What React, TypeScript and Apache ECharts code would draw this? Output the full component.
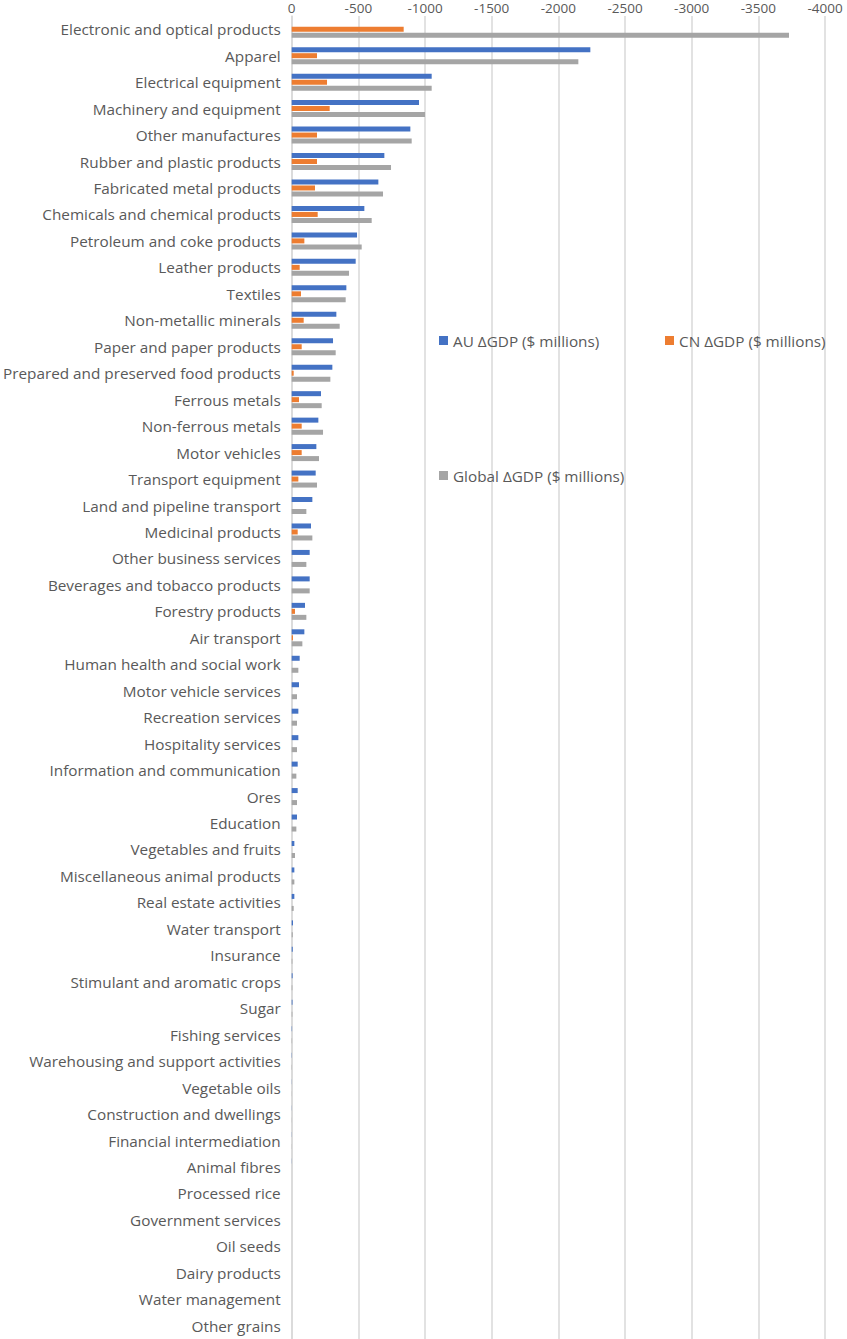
import React, { useEffect, useRef } from "react";
import * as echarts from "echarts";

const categories = [
  "Electronic and optical products",
  "Apparel",
  "Electrical equipment",
  "Machinery and equipment",
  "Other manufactures",
  "Rubber and plastic products",
  "Fabricated metal products",
  "Chemicals and chemical products",
  "Petroleum and coke products",
  "Leather products",
  "Textiles",
  "Non-metallic minerals",
  "Paper and paper products",
  "Prepared and preserved food products",
  "Ferrous metals",
  "Non-ferrous metals",
  "Motor vehicles",
  "Transport equipment",
  "Land and pipeline transport",
  "Medicinal products",
  "Other business services",
  "Beverages and tobacco products",
  "Forestry products",
  "Air transport",
  "Human health and social work",
  "Motor vehicle services",
  "Recreation services",
  "Hospitality services",
  "Information and communication",
  "Ores",
  "Education",
  "Vegetables and fruits",
  "Miscellaneous animal products",
  "Real estate activities",
  "Water transport",
  "Insurance",
  "Stimulant and aromatic crops",
  "Sugar",
  "Fishing services",
  "Warehousing and support activities",
  "Vegetable oils",
  "Construction and dwellings",
  "Financial intermediation",
  "Animal fibres",
  "Processed rice",
  "Government services",
  "Oil seeds",
  "Dairy products",
  "Water management",
  "Other grains",
];

const auValues = [
  0, -2240, -1050, -955, -890, -695, -650, -545, -490, -480,
  -410, -335, -310, -305, -220, -200, -185, -180, -155, -145,
  -135, -135, -100, -95, -60, -55, -50, -50, -45, -45,
  -40, -20, -20, -20, -10, -8, -7, -6, -3, -2,
  -1, -1, -1, -1, 0, 0, 0, 0, 0, 0,
];

const cnValues = [
  -840, -190, -265, -285, -190, -190, -175, -195, -95, -60,
  -70, -90, -75, -15, -55, -75, -75, -50, 0, -45,
  0, 0, -25, -10, 0, 0, 0, 0, 0, 0,
  0, 0, 0, 0, 0, 0, 0, 0, 0, 0,
  0, 0, 0, 0, 0, 0, 0, 0, 0, 0,
];

const globalValues = [
  -3730, -2150, -1050, -1000, -900, -745, -685, -600, -525, -430,
  -405, -360, -330, -290, -225, -235, -205, -190, -110, -155,
  -110, -135, -110, -80, -50, -40, -40, -40, -35, -40,
  -35, -25, -20, -15, -8, -5, -5, -5, -3, -2,
  -1, -1, -1, 0, 0, 0, 0, 0, 0, 0,
];

const seriesNames = [
  "AU ΔGDP ($ millions)",
  "CN ΔGDP ($ millions)",
  "Global ΔGDP ($ millions)",
];
const seriesColors = ["#4472C4", "#ED7D31", "#A5A5A5"];

const xMin = -4000;
const xMax = 0;
const xInterval = 500;

const FONT = "'Open Sans', 'Noto Sans', sans-serif";
const TEXT_COLOR = "#595959";
const GRID_COLOR = "#D9D9D9";

export default function App() {
  const ref = useRef<HTMLDivElement>(null);

  useEffect(() => {
    if (!ref.current) return;
    const chart = echarts.init(ref.current, null, { renderer: "svg" });

    const legendBase = {
      orient: "horizontal",
      icon: "rect",
      itemWidth: 9,
      itemHeight: 9,
      itemGap: 10,
      textStyle: { color: TEXT_COLOR, fontSize: 15.3, fontFamily: FONT },
      selectedMode: false,
    };

    chart.setOption({
      animation: false,
      backgroundColor: "#ffffff",
      textStyle: { fontFamily: FONT },
      grid: {
        left: 289,
        right: 22,
        top: 16,
        bottom: -1,
        containLabel: false,
      },
      legend: [
        { ...legendBase, data: [seriesNames[0]], left: 434, top: 328 },
        { ...legendBase, data: [seriesNames[1]], left: 660, top: 328 },
        { ...legendBase, data: [seriesNames[2]], left: 434, top: 463 },
      ],
      xAxis: {
        type: "value",
        position: "top",
        inverse: true,
        min: xMin,
        max: xMax,
        interval: xInterval,
        axisLine: { show: false },
        axisTick: { show: false },
        axisLabel: {
          color: TEXT_COLOR,
          fontSize: 13.5,
          fontFamily: FONT,
          margin: 1,
          formatter: (v: number) => String(v),
        },
        splitLine: { show: true, lineStyle: { color: GRID_COLOR, width: 1.5 } },
      },
      yAxis: {
        type: "category",
        inverse: true,
        data: categories,
        axisLine: { show: true, lineStyle: { color: GRID_COLOR, width: 1.5 } },
        axisTick: { show: false },
        axisLabel: {
          color: TEXT_COLOR,
          fontSize: 15.3,
          fontFamily: FONT,
          margin: 11,
        },
        splitLine: { show: false },
      },
      series: [auValues, cnValues, globalValues].map((vals, i) => ({
        type: "bar",
        name: seriesNames[i],
        data: vals,
        barWidth: 5,
        barGap: "20%",
        itemStyle: { color: seriesColors[i] },
      })),
    });

    return () => chart.dispose();
  }, []);

  return (
    <div
      ref={ref}
      style={{
        position: "fixed",
        left: 0,
        top: 0,
        width: 847,
        height: 1339,
        background: "#ffffff",
      }}
    />
  );
}
